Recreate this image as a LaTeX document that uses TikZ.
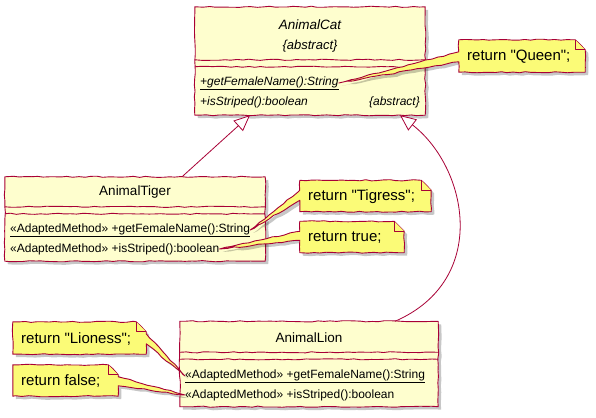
\documentclass[tikz,border=0pt]{standalone}
\usepackage{fontspec}
\setmainfont{Liberation Sans}[Ligatures=TeXOff]
\usetikzlibrary{arrows.meta,calc,shadows,decorations.pathmorphing}
\definecolor{umlborder}{HTML}{A80036}
\definecolor{classfill}{HTML}{FEFECE}
\definecolor{notefill}{HTML}{FBFB77}
\begin{document}
\begin{tikzpicture}[x=1pt,y=-1pt,
  wobble/.style={decorate,decoration={random steps,segment length=6pt,amplitude=0.6pt}},
  softshadow/.style={drop shadow={shadow xshift=3pt,shadow yshift=-3pt,fill=black,opacity=0.22}},
  frame/.style={rectangle,inner sep=0pt,draw=none,fill=none},
  classline/.style={draw=umlborder,fill=classfill,line width=0.9pt,line join=round,softshadow,wobble},
  sepline/.style={draw=umlborder,line width=0.9pt,wobble},
  noteline/.style={draw=umlborder,fill=notefill,line width=0.9pt,line join=round,softshadow,wobble},
  foldline/.style={draw=umlborder,fill=notefill,line width=0.9pt,line join=round},
  classtitle/.style={inner sep=0pt,font=\fontsize{13.5}{15}\selectfont},
  member/.style={inner sep=0pt,anchor=west,font=\fontsize{12}{14}\selectfont},
  notetext/.style={rectangle,inner sep=0pt,draw=none,font=\fontsize{15}{17}\selectfont},
  inherit/.style={draw=umlborder,line width=0.8pt,-{Triangle[length=16pt,width=14pt,fill=white]}},
]
\pgfmathsetseed{11}
\useasboundingbox[fill=white] (0,0) rectangle (596,417);

% ---------- AnimalCat ----------
\node[frame,minimum width=230,minimum height=108] (cat) at (310,61) {};
\draw[classline] (cat.north west) rectangle (cat.south east);
\draw[sepline] ($(cat.north west)+(0,53)$) -- ($(cat.north east)+(0,53)$);
\draw[sepline] ($(cat.north west)+(0,60)$) -- ($(cat.north east)+(0,60)$);
\node[classtitle,font=\fontsize{13.5}{15}\selectfont\itshape] (cattitle) at (310,25) {AnimalCat};
\node[classtitle,font=\fontsize{13}{15}\selectfont\itshape] (catabs) at (310,46) {\{abstract\}};
\node[member,font=\fontsize{12}{14}\selectfont\itshape] (catfem) at (200,83) {\underline{+getFemaleName():String}};
\node[member,font=\fontsize{12}{14}\selectfont\itshape] (catstr) at (200,102) {+isStriped():boolean};
\node[member,anchor=east,font=\fontsize{12}{14}\selectfont\itshape] (catstrabs) at (420,102) {\{abstract\}};

% ---------- AnimalTiger ----------
\node[frame,minimum width=260,minimum height=84] (tiger) at (135,219) {};
\draw[classline] (tiger.north west) rectangle (tiger.south east);
\draw[sepline] ($(tiger.north west)+(0,30)$) -- ($(tiger.north east)+(0,30)$);
\draw[sepline] ($(tiger.north west)+(0,37)$) -- ($(tiger.north east)+(0,37)$);
\node[classtitle] (tigertitle) at (135,192) {AnimalTiger};
\node[member] (tigerfem) at (10,230) {\underline{«AdaptedMethod» +getFemaleName():String}};
\node[member] (tigerstr) at (10,249) {«AdaptedMethod» +isStriped():boolean};

% ---------- AnimalLion ----------
\node[frame,minimum width=258,minimum height=85] (lion) at (309,364) {};
\draw[classline] (lion.north west) rectangle (lion.south east);
\draw[sepline] ($(lion.north west)+(0,31)$) -- ($(lion.north east)+(0,31)$);
\draw[sepline] ($(lion.north west)+(0,38)$) -- ($(lion.north east)+(0,38)$);
\node[classtitle] (liontitle) at (309,338) {AnimalLion};
\node[member] (lionfem) at (185,376) {\underline{«AdaptedMethod» +getFemaleName():String}};
\node[member] (lionstr) at (185,395) {«AdaptedMethod» +isStriped():boolean};

% ---------- generalisations ----------
\draw[inherit] ([xshift=47pt]tiger.north) -- ([xshift=-60pt]cat.south);
\draw[inherit] ([xshift=86pt]lion.north) .. controls (490,280) and (468,168) .. ([xshift=90pt]cat.south);

% ---------- notes ----------
% return "Queen";
\node[notetext,minimum width=126,minimum height=32] (qn) at (522,56) {};
\draw[noteline] (qn.north west) -- ($(qn.north east)+(-10,0)$) -- ($(qn.north east)+(0,10)$)
  -- (qn.south east) -- (qn.south west) -- ($(qn.north west)+(0,22)$) -- (catfem.east)
  -- ($(qn.north west)+(0,12)$) -- cycle;
\draw[foldline] ($(qn.north east)+(-10,0)$) -- ($(qn.north east)+(-10,10)$) -- ($(qn.north east)+(0,10)$);
\node[notetext,anchor=west] (qntext) at (467,57) {return "Queen";};

% return "Tigress";
\node[notetext,minimum width=131,minimum height=31] (tn) at (365.5,196) {};
\draw[noteline] (tn.north west) -- ($(tn.north east)+(-10,0)$) -- ($(tn.north east)+(0,10)$)
  -- (tn.south east) -- (tn.south west) -- ($(tn.north west)+(0,20)$) -- (tigerfem.east)
  -- ($(tn.north west)+(0,10)$) -- cycle;
\draw[foldline] ($(tn.north east)+(-10,0)$) -- ($(tn.north east)+(-10,10)$) -- ($(tn.north east)+(0,10)$);
\node[notetext,anchor=west] (tntext) at (308,197) {return "Tigress";};

% return true;
\node[notetext,minimum width=104,minimum height=31] (un) at (352,237) {};
\draw[noteline] (un.north west) -- ($(un.north east)+(-10,0)$) -- ($(un.north east)+(0,10)$)
  -- (un.south east) -- (un.south west) -- ($(un.north west)+(0,19)$) -- (tigerstr.east)
  -- ($(un.north west)+(0,10)$) -- cycle;
\draw[foldline] ($(un.north east)+(-10,0)$) -- ($(un.north east)+(-10,10)$) -- ($(un.north east)+(0,10)$);
\node[notetext,anchor=west] (untext) at (308,238) {return true;};

% return "Lioness";
\node[notetext,minimum width=133,minimum height=32] (ln) at (79.5,338) {};
\draw[noteline] (ln.north west) -- ($(ln.north east)+(-10,0)$) -- ($(ln.north east)+(0,10)$)
  -- ($(ln.north east)+(0,12)$) -- (lionfem.west) -- ($(ln.north east)+(0,22)$)
  -- (ln.south east) -- (ln.south west) -- cycle;
\draw[foldline] ($(ln.north east)+(-10,0)$) -- ($(ln.north east)+(-10,10)$) -- ($(ln.north east)+(0,10)$);
\node[notetext,anchor=west] (lntext) at (21,339) {return "Lioness";};

% return false;
\node[notetext,minimum width=105,minimum height=31] (fn) at (65.5,380.5) {};
\draw[noteline] (fn.north west) -- ($(fn.north east)+(-10,0)$) -- ($(fn.north east)+(0,10)$)
  -- ($(fn.north east)+(0,12)$) -- (lionstr.west) -- ($(fn.north east)+(0,21)$)
  -- (fn.south east) -- (fn.south west) -- cycle;
\draw[foldline] ($(fn.north east)+(-10,0)$) -- ($(fn.north east)+(-10,10)$) -- ($(fn.north east)+(0,10)$);
\node[notetext,anchor=west] (fntext) at (21,381) {return false;};
\end{tikzpicture}
\end{document}
